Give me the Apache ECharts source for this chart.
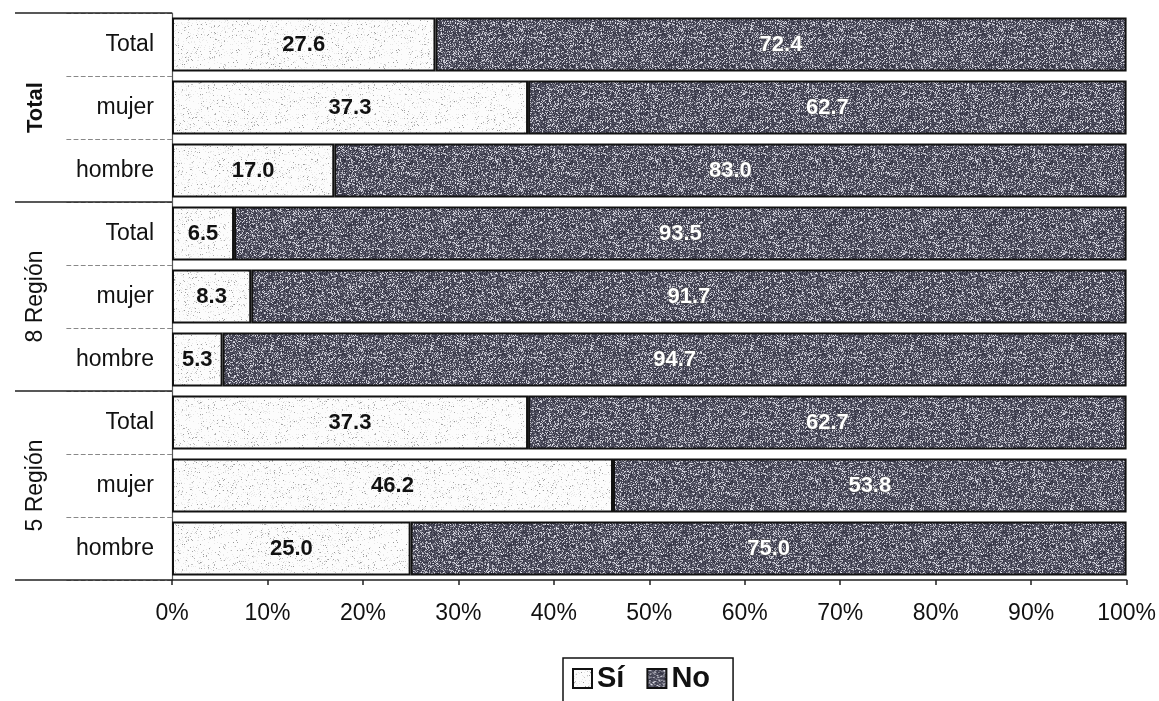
<!DOCTYPE html>
<html>
<head>
<meta charset="utf-8">
<script src="https://cdn.jsdelivr.net/npm/echarts@6/dist/echarts.min.js"></script>
<style>
  html, body { margin: 0; padding: 0; background: #ffffff; }
  #chart { width: 1159px; height: 701px; }
</style>
</head>
<body>
<div id="chart"></div>
<script>
// Rows listed bottom to top, as the category axis stacks them.
const groups = ['5 Región', '8 Región', 'Total'];
const rowLabels = ['hombre', 'mujer', 'Total', 'hombre', 'mujer', 'Total', 'hombre', 'mujer', 'Total'];
const siValues = [25.0, 46.2, 37.3, 5.3, 8.3, 6.5, 17.0, 37.3, 27.6];
const noValues = [75.0, 53.8, 62.7, 94.7, 91.7, 93.5, 83.0, 62.7, 72.4];
const xTicks = [0, 10, 20, 30, 40, 50, 60, 70, 80, 90, 100];

// Unique ids per row so repeated names stay separate categories.
const rowIds = rowLabels.map((name, i) => i + '|' + name);

// Speckled fills, built from a small seeded hash so they look the same every time.
function makeSpeckle(size, pick) {
  const c = document.createElement('canvas');
  c.width = size; c.height = size;
  const ctx = c.getContext('2d');
  const img = ctx.createImageData(size, size);
  let s = 12345;
  const next = () => { s = (s * 1103515245 + 12345) & 0x7fffffff; return s / 0x7fffffff; };
  for (let i = 0; i < size * size; i++) {
    const v = pick(next());
    img.data[i * 4] = v[0];
    img.data[i * 4 + 1] = v[1];
    img.data[i * 4 + 2] = v[2];
    img.data[i * 4 + 3] = 255;
  }
  ctx.putImageData(img, 0, 0);
  return c;
}
const darkTexture = makeSpeckle(160, r => {
  if (r < 0.26) { const g = 150 + Math.round(r * 300); return [g, g, g + 10]; }
  const g = 45 + Math.round((r - 0.26) * 75);
  return [g, g, g + 16];
});
const lightTexture = makeSpeckle(160, r => {
  if (r < 0.035) { const g = 150 + Math.round(r * 1500); return [g, g, g]; }
  if (r < 0.12) return [232, 232, 232];
  return [252, 252, 252];
});

const labelFont = { fontFamily: 'Liberation Sans, Arial, sans-serif' };

const chart = echarts.init(document.getElementById('chart'), null, { renderer: 'canvas' });
chart.setOption({
  backgroundColor: '#ffffff',
  animation: false,
  grid: { left: 172, right: 32, top: 13, bottom: 121, containLabel: false },
  xAxis: {
    type: 'value',
    min: 0, max: 100, interval: 10,
    axisLine: { show: true, lineStyle: { color: '#222', width: 1.5 } },
    axisTick: { show: true, length: 5, lineStyle: { color: '#222', width: 1.5 } },
    splitLine: { show: false },
    axisLabel: {
      ...labelFont, fontSize: 23, color: '#111', margin: 22,
      formatter: v => xTicks.includes(v) ? v + '%' : ''
    }
  },
  yAxis: [
    {
      type: 'category',
      data: rowIds,
      position: 'left',
      axisLine: { show: true, lineStyle: { color: '#555', width: 1.2 } },
      axisTick: { show: true, length: 107, lineStyle: { color: '#888', width: 1.2, type: 'dashed' } },
      axisLabel: {
        ...labelFont, fontSize: 23, color: '#111', margin: 18,
        formatter: v => v.split('|')[1]
      }
    },
    {
      type: 'category',
      data: groups,
      position: 'left',
      axisLine: { show: false },
      axisTick: { show: true, length: 157, lineStyle: { color: '#222', width: 1.5 } },
      axisLabel: {
        ...labelFont, fontSize: 23, color: '#111', rotate: 90, margin: 125,
        formatter: v => v === 'Total' ? '{b|' + v + '}' : v,
        rich: { b: { ...labelFont, fontSize: 22, fontWeight: 'bold', color: '#111' } }
      }
    }
  ],
  legend: {
    left: 563,
    top: 658,
    data: ['Sí', 'No'],
    orient: 'horizontal',
    itemWidth: 19,
    itemHeight: 19,
    itemGap: 22,
    padding: [6, 23, 20, 9],
    borderColor: '#111',
    borderWidth: 1.5,
    textStyle: { ...labelFont, fontSize: 29, color: '#111', fontWeight: 'bold' },
    icon: 'rect'
  },
  series: [
    {
      name: 'Sí',
      type: 'bar',
      stack: 'total',
      barCategoryGap: '14%',
      data: siValues,
      itemStyle: { color: { image: lightTexture, repeat: 'repeat' }, borderColor: '#111', borderWidth: 2 },
      label: {
        show: true, position: 'inside',
        ...labelFont, fontSize: 22, fontWeight: 'bold', color: '#111',
        formatter: p => p.value.toFixed(1)
      }
    },
    {
      name: 'No',
      type: 'bar',
      stack: 'total',
      barCategoryGap: '14%',
      data: noValues,
      itemStyle: { color: { image: darkTexture, repeat: 'repeat' }, borderColor: '#111', borderWidth: 2 },
      label: {
        show: true, position: 'inside',
        ...labelFont, fontSize: 22, fontWeight: 'bold', color: '#ffffff',
        textBorderColor: '#555', textBorderWidth: 1,
        formatter: p => p.value.toFixed(1)
      }
    }
  ]
});
</script>
</body>
</html>
